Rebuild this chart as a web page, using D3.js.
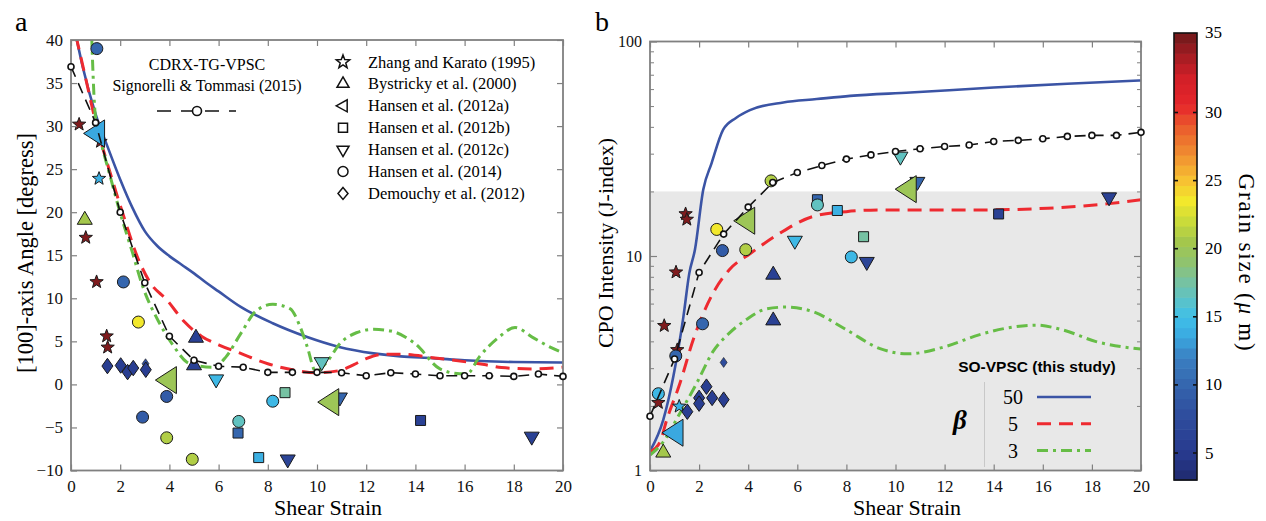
<!DOCTYPE html>
<html><head><meta charset="utf-8">
<script src="https://cdn.jsdelivr.net/npm/d3@7"></script>
<style>body{margin:0;background:#fff}svg{display:block}</style>
</head><body>
<svg id="chart" width="1266" height="521"></svg>
<script>
// ---------------- DATA ----------------
const strainTicks = [0,2,4,6,8,10,12,14,16,18,20];
const angleTicks = [-10,-5,0,5,10,15,20,25,30,35,40];
const jTicks = [1,10,100];
const jMinorTicks = [2,3,4,5,6,7,8,9,20,30,40,50,60,70,80,90];
const grainTicks = [5,10,15,20,25,30,35];
const studyNames = ["Zhang and Karato (1995)","Bystricky et al. (2000)","Hansen et al. (2012a)","Hansen et al. (2012b)","Hansen et al. (2012c)","Hansen et al. (2014)","Demouchy et al. (2012)"];
const betaLabels = ["50","5","3"];

// panel a points: [shear strain, angle, grain size]
const zhangA = [[0.33,30.2,35.3],[0.6,17.05,35.3],[1.04,11.9,35.3],[1.45,5.6,35.3],[1.49,4.3,35.3],[1.14,23.9,14],[1.2,28.2,35.3]];
const bystrickyA = [[0.56,19.1,20.5],[5.08,5.4,6],[5.0,2.2,6]];
const hansen12aA = [[1.04,29.15,13.5],[3.96,0.5,20],[10.56,-2.06,20]];
const hansen12bA = [[6.79,-5.65,10],[7.63,-8.5,14],[8.7,-0.96,17.5],[14.21,-4.19,6]];
const hansen12cA = [[5.9,0.6,14.5],[8.81,-8.7,6.5],[10.19,2.6,16.5],[10.93,-1.5,10],[18.73,-6.05,6]];
const hansen14A = [[1.05,39,10],[2.13,11.9,10],[2.74,7.24,23.5],[3.89,-1.4,9],[2.91,-3.8,9],[3.89,-6.2,21],[4.93,-8.7,21],[6.82,-4.3,16.5],[8.2,-1.95,14.5]];
const demouchyA = [[1.48,2.13,5.5],[2.02,2.2,5.5],[2.3,1.43,5.5],[2.53,1.9,5.5],[3.04,1.7,5.5]];
const demouchySmallA = [[3.03,2.4,7.5]];

// panel b points: [shear strain, J-index, grain size]
const zhangB = [[1.45,15.7,35.3],[1.5,14.8,35.3],[1.06,8.4,35.3],[0.58,4.73,35.3],[1.11,3.65,35.3],[0.34,2.07,35.3],[1.19,1.99,14]];
const bystrickyB = [[0.54,1.21,20.5],[5.02,8.17,6],[5.02,5.0,6]];
const hansen12aB = [[1.02,1.5,13.5],[3.94,14.6,20],[10.52,20.5,20]];
const hansen12bB = [[6.82,18.3,10],[7.63,16.3,14],[8.7,12.3,17.5],[14.2,15.7,6]];
const hansen12cB = [[5.9,11.8,14.5],[8.83,9.4,6.5],[10.2,29.1,16.5],[10.89,22.2,10],[18.7,18.8,6]];
const hansen14B = [[2.72,13.3,23.5],[2.95,10.6,9],[3.9,10.7,21],[4.93,22.4,21],[6.82,17.3,16.5],[8.2,9.9,14.5],[2.14,4.83,10],[1.05,3.42,10],[0.34,2.28,14.5]];
const demouchyB = [[1.52,1.88,5.5],[2.0,2.18,5.5],[2.0,2.05,5.5],[2.3,2.46,5.5],[2.53,2.18,5.5],[3.0,2.14,5.5]];
const demouchySmallB = [[3.0,3.19,7.5]];

// model curves, panel a: [strain, angle]
const beta50A = [[0.2,40.5],[0.5,36.6],[1.0,31.4],[1.5,27.5],[2.0,23.8],[2.5,20.5],[3.0,17.8],[3.5,16.1],[4.0,14.9],[4.5,13.9],[5.0,12.9],[5.5,11.8],[6.0,10.8],[6.9,9.0],[8.2,7.1],[9.6,5.5],[10.9,4.35],[12.3,3.6],[13.4,3.25],[14.7,3.05],[16,2.8],[18,2.6],[20,2.55]];
const beta5A = [[0.2,40.5],[0.6,35.5],[1.0,30.5],[1.6,24.5],[2.1,19.9],[2.7,14.8],[3.2,11.9],[3.9,9.8],[4.6,7.3],[5.3,5.6],[6.0,4.6],[6.9,3.6],[8.0,2.4],[9.0,1.7],[10,1.35],[10.9,1.6],[11.5,2.3],[12.0,3.0],[12.7,3.5],[13.4,3.5],[14.7,3.1],[16.1,2.6],[16.8,2.3],[17.5,1.95],[18.8,1.8],[20,2.0]];
const beta3A = [[0.84,40.5],[0.98,31.5],[1.2,28.4],[1.6,24.1],[2.0,19.9],[2.5,15.3],[2.9,11.5],[3.6,7.1],[4.16,4.5],[4.7,2.6],[5.1,2.2],[5.8,2.0],[6.3,3.2],[6.9,5.9],[7.55,8.6],[8.2,9.3],[8.9,8.8],[9.3,6.8],[9.6,4.4],[9.95,1.5],[10.4,2.6],[10.95,4.8],[11.6,6.0],[12.3,6.4],[13.0,6.2],[14.0,4.7],[15.0,1.8],[15.8,1.25],[16.1,1.25],[16.6,3.2],[17.4,5.5],[18.05,6.6],[18.8,5.4],[19.5,4.3],[20,3.65]];
const cdrxA = [[0,36.9],[1,30.4],[2,20.0],[3,11.8],[4,5.6],[5,2.8],[6,2.1],[7,2.0],[8,1.4],[9,1.4],[10,1.4],[11,1.36],[12,1.0],[13,1.36],[14,1.2],[15,1.0],[16,1.0],[17,1.0],[18,0.93],[19,1.2],[20,0.93]];

// model curves, panel b: [strain, J]
const beta50B = [[0,1.23],[0.54,1.72],[0.95,2.74],[1.36,5.2],[1.6,8.3],[1.83,10.7],[2.17,20.4],[2.51,27.1],[2.98,38.8],[3.5,44],[4.07,47.9],[5.43,52],[6.79,53.9],[8.15,55.8],[10.6,57.8],[14,61],[17,63.5],[20,65.8]];
const beta5B = [[0,1.22],[0.41,1.36],[0.68,1.72],[1.22,2.55],[1.76,4.07],[2.57,6.72],[3.23,8.63],[4.1,10.3],[5.3,12.8],[6.65,15.3],[8.0,16.1],[9.4,16.4],[11,16.4],[13.4,16.4],[16.2,16.7],[18.6,17.5],[20,18.3]];
const beta3B = [[0,1.18],[0.54,1.36],[1.22,1.85],[1.9,2.55],[2.57,3.59],[3.23,4.37],[3.91,5.04],[4.72,5.66],[5.54,5.78],[6.62,5.51],[8.0,4.53],[9.37,3.7],[10.5,3.5],[12.06,3.79],[13.4,4.29],[14.77,4.66],[15.72,4.76],[16.8,4.53],[18.17,3.99],[20,3.68]];
const cdrxB = [[0,1.79],[1,3.31],[2,8.38],[3,12.65],[4,16.9],[5,22.0],[6,24.5],[7,26.4],[8,28.3],[9,29.6],[10,30.7],[11,31.6],[12,32.4],[13,32.9],[14,34.2],[15,34.6],[16,35.2],[17,36.1],[18,36.5],[19,36.5],[20,37.7]];

// shaded band in panel b (J range)
const shadeJ = [1,20];

// ---------------- STYLE ----------------
const SERIF = "'Liberation Serif','Times New Roman',serif";
const SANS = "'Liberation Sans',Arial,sans-serif";
const FRAME = "#808080";
const cmapStops = [[3,'#1f2a6e'],[5,'#283a8e'],[8,'#2f4f9f'],[10,'#3566ae'],[12,'#3a80c2'],[13.5,'#3aa8e0'],[15,'#40c0e8'],[16.3,'#5dc2c6'],[17.6,'#78c2a0'],[19,'#90c36e'],[20.5,'#a4c74c'],[22,'#cadb3a'],[23.5,'#f2e82c'],[25,'#f7c232'],[27,'#f08c30'],[29,'#ea5a2c'],[30.5,'#e6262b'],[32.5,'#d22028'],[34.3,'#a01c22'],[35.8,'#6e1a1a']];
const cmap = d3.scaleLinear().domain(cmapStops.map(d=>d[0])).range(cmapStops.map(d=>d[1])).clamp(true);
const colorOf = g => cmap(g);

const svg = d3.select("#chart");

// shape paths (centered)
function starPath(r){const p=[];for(let i=0;i<10;i++){const a=-Math.PI/2+i*Math.PI/5;const rr=i%2?r*0.42:r;p.push([rr*Math.cos(a),rr*Math.sin(a)]);}return "M"+p.map(q=>q.join(",")).join("L")+"Z";}
function triPath(s,dir){const h=s*0.866;let pts;
  if(dir==="up") pts=[[0,-2*h/3],[s/2,h/3],[-s/2,h/3]];
  else pts=[[0,2*h/3],[s/2,-h/3],[-s/2,-h/3]];
  return "M"+pts.map(q=>q.join(",")).join("L")+"Z";}
function leftTriPath(w,h){return `M${-w*0.62},0L${w*0.38},${-h/2}L${w*0.38},${h/2}Z`;}
function squarePath(s){return `M${-s/2},${-s/2}h${s}v${s}h${-s}Z`;}
function circlePath(r){return `M${r},0A${r},${r} 0 1,1 ${-r},0A${r},${r} 0 1,1 ${r},0Z`;}
function diamondPath(w,h){return `M0,${-h/2}L${w/2},0L0,${h/2}L${-w/2},0Z`;}

const shapes = {
  star: starPath(7),
  up: triPath(15,"up"),
  down: triPath(15,"down"),
  bigleft: leftTriPath(21,27),
  square: squarePath(10),
  circle: circlePath(6),
  diamond: diamondPath(11,15.5),
  smalldiamond: diamondPath(7,10)
};

function makeClip(x,y,id){
  const [x0,x1]=x.range(); const [y0,y1]=y.range();
  svg.append("clipPath").attr("id",id).append("rect").attr("x",x0).attr("y",y1).attr("width",x1-x0).attr("height",y0-y1);
  return id;
}

function axesFrame(x,y,opts){
  const [x0,x1]=x.range(); const [y0,y1]=y.range();
  const g = svg.append("g");
  const b = g.append("g").attr("transform",`translate(0,${y0})`).call(d3.axisBottom(x).tickValues(strainTicks).tickSize(-6).tickPadding(9).tickFormat(d3.format("d")));
  const t = g.append("g").attr("transform",`translate(0,${y1})`).call(d3.axisTop(x).tickValues(strainTicks).tickSize(-6).tickFormat(""));
  let l,r;
  if(opts.log){
    l = g.append("g").attr("transform",`translate(${x0},0)`).call(d3.axisLeft(y).tickValues(jTicks).tickSize(-7).tickPadding(8).tickFormat(d3.format("d")));
    r = g.append("g").attr("transform",`translate(${x1},0)`).call(d3.axisRight(y).tickValues(jTicks).tickSize(-7).tickFormat(""));
    const lm = g.append("g").attr("transform",`translate(${x0},0)`).call(d3.axisLeft(y).tickValues(jMinorTicks).tickSize(-4).tickFormat(""));
    const rm = g.append("g").attr("transform",`translate(${x1},0)`).call(d3.axisRight(y).tickValues(jMinorTicks).tickSize(-4).tickFormat(""));
    [lm,rm].forEach(a=>{a.select(".domain").remove();a.selectAll("line").attr("stroke",FRAME);});
  } else {
    l = g.append("g").attr("transform",`translate(${x0},0)`).call(d3.axisLeft(y).tickValues(angleTicks).tickSize(-6).tickPadding(8).tickFormat(d3.format("d")));
    r = g.append("g").attr("transform",`translate(${x1},0)`).call(d3.axisRight(y).tickValues(angleTicks).tickSize(-6).tickFormat(""));
  }
  [b,t,l,r].forEach(a=>{
    a.select(".domain").remove();
    a.selectAll("line").attr("stroke",FRAME).attr("stroke-width",1.2);
    a.selectAll("text").attr("font-family",SERIF).attr("font-size",opts.log?16:17).attr("fill","#111");
  });
  b.selectAll("text").attr("font-size",17);
  g.append("rect").attr("x",x0).attr("y",y1).attr("width",x1-x0).attr("height",y0-y1)
    .attr("fill","none").attr("stroke",FRAME).attr("stroke-width",1.8);
}

function drawCurves(x,y,clipId,c50,c5,c3){
  const line = d3.line().x(d=>x(d[0])).y(d=>y(d[1])).curve(d3.curveMonotoneX);
  const g = svg.append("g").attr("clip-path",`url(#${clipId})`);
  g.append("path").attr("d",line(c50)).attr("fill","none").attr("stroke","#3b54a5").attr("stroke-width",2.6);
  g.append("path").attr("d",line(c5)).attr("fill","none").attr("stroke","#ee2a30").attr("stroke-width",3).attr("stroke-dasharray","14,8");
  g.append("path").attr("d",line(c3)).attr("fill","none").attr("stroke","#66bd46").attr("stroke-width",3).attr("stroke-dasharray","11,5,3,5");
}

function drawCdrx(x,y,data){
  const line = d3.line().x(d=>x(d[0])).y(d=>y(d[1]));
  const g = svg.append("g");
  g.append("path").attr("d",line(data)).attr("fill","none").attr("stroke","#111").attr("stroke-width",1.6).attr("stroke-dasharray","11,7");
  g.selectAll("circle").data(data).join("circle").attr("cx",d=>x(d[0])).attr("cy",d=>y(d[1])).attr("r",3)
    .attr("fill","#fff").attr("stroke","#111").attr("stroke-width",1.6);
}

function drawPoints(x,y,data,shape){
  svg.append("g").selectAll("path").data(data).join("path")
    .attr("d",shapes[shape])
    .attr("transform",d=>`translate(${x(d[0])},${y(d[1])})`)
    .attr("fill",d=>colorOf(d[2])).attr("stroke","#1a1a1a").attr("stroke-width",shape==="smalldiamond"?0.6:1);
}

// ---------------- PANEL A ----------------
const xA = d3.scaleLinear().domain([0,20]).range([71,563]);
const yA = d3.scaleLinear().domain([-10,40]).range([470.5,40]);
const clipA = makeClip(xA,yA,"clipa");
drawCurves(xA,yA,clipA,beta50A,beta5A,beta3A);
drawPoints(xA,yA,zhangA,"star");
drawPoints(xA,yA,bystrickyA,"up");
drawPoints(xA,yA,hansen12bA,"square");
drawPoints(xA,yA,hansen12cA,"down");
drawPoints(xA,yA,hansen14A,"circle");
drawPoints(xA,yA,demouchySmallA,"smalldiamond");
drawPoints(xA,yA,demouchyA,"diamond");
drawPoints(xA,yA,hansen12aA,"bigleft");
axesFrame(xA,yA,{log:false});
drawCdrx(xA,yA,cdrxA);

// ---------------- PANEL B ----------------
const xB = d3.scaleLinear().domain([0,20]).range([650,1141]);
const yB = d3.scaleLog().domain([1,100]).range([470.5,41.5]);
const clipB = makeClip(xB,yB,"clipb");
svg.append("rect").attr("x",xB(0)).attr("y",yB(shadeJ[1])).attr("width",xB(20)-xB(0)).attr("height",yB(shadeJ[0])-yB(shadeJ[1])).attr("fill","#e8e8e8");
drawCurves(xB,yB,clipB,beta50B,beta5B,beta3B);
drawPoints(xB,yB,zhangB,"star");
drawPoints(xB,yB,bystrickyB,"up");
drawPoints(xB,yB,hansen12bB,"square");
drawPoints(xB,yB,hansen12cB,"down");
drawPoints(xB,yB,hansen14B,"circle");
drawPoints(xB,yB,demouchySmallB,"smalldiamond");
drawPoints(xB,yB,demouchyB,"diamond");
drawPoints(xB,yB,hansen12aB,"bigleft");
axesFrame(xB,yB,{log:true});
drawCdrx(xB,yB,cdrxB);

// ---------------- LABELS ----------------
svg.append("text").attr("x",15).attr("y",31).attr("font-family",SERIF).attr("font-size",28).text("a");
svg.append("text").attr("x",595).attr("y",31).attr("font-family",SERIF).attr("font-size",28).text("b");
svg.append("text").attr("x",328).attr("y",515).attr("text-anchor","middle").attr("font-family",SERIF).attr("font-size",22).text("Shear Strain");
svg.append("text").attr("x",907).attr("y",515).attr("text-anchor","middle").attr("font-family",SERIF).attr("font-size",22).text("Shear Strain");
svg.append("text").attr("transform","translate(33,253) rotate(-90)").attr("text-anchor","middle").attr("font-family",SERIF).attr("font-size",22.5).text("[100]-axis Angle [degress]");
svg.append("text").attr("transform","translate(613,243) rotate(-90)").attr("text-anchor","middle").attr("font-family",SERIF).attr("font-size",22).text("CPO Intensity (J-index)");

// panel a legend: CDRX
svg.append("text").attr("x",207).attr("y",70).attr("text-anchor","middle").attr("font-family",SERIF).attr("font-size",16).text("CDRX-TG-VPSC");
svg.append("text").attr("x",207).attr("y",91).attr("text-anchor","middle").attr("font-family",SERIF).attr("font-size",16).text("Signorelli & Tommasi (2015)");
svg.append("line").attr("x1",157).attr("x2",236).attr("y1",111).attr("y2",111).attr("stroke","#111").attr("stroke-width",1.6).attr("stroke-dasharray","14,10");
svg.append("circle").attr("cx",197).attr("cy",111).attr("r",4.5).attr("fill","#fff").attr("stroke","#111").attr("stroke-width",1.6);

// panel a legend: studies
const legendShapes = [starPath(7),triPath(12,"up"),leftTriPath(11,12),squarePath(9),triPath(12,"down"),circlePath(5),diamondPath(10,12)];
const lg = svg.append("g");
studyNames.forEach((name,i)=>{
  const yy = 62 + i*21.9;
  lg.append("path").attr("d",legendShapes[i]).attr("transform",`translate(343,${yy})`).attr("fill","#fff").attr("stroke","#111").attr("stroke-width",1.5);
  lg.append("text").attr("x",368).attr("y",yy+5.5).attr("font-family",SERIF).attr("font-size",16.5).text(name);
});

// panel b legend
svg.append("text").attr("x",1037).attr("y",372).attr("text-anchor","middle").attr("font-family",SANS).attr("font-weight","bold").attr("font-size",15.5).text("SO-VPSC (this study)");
svg.append("line").attr("x1",984.5).attr("x2",984.5).attr("y1",382).attr("y2",467).attr("stroke","#c8c8c8").attr("stroke-width",1);
svg.append("text").attr("x",960).attr("y",429).attr("text-anchor","middle").attr("font-family",SERIF).attr("font-style","italic").attr("font-weight","bold").attr("font-size",27).text("β");
const legStyles = [["#3b54a5",null,2.4],["#ee2a30","14,8",3],["#66bd46","11,5,3,5",3]];
betaLabels.forEach((lab,i)=>{
  const yy = 397 + i*26.8;
  svg.append("text").attr("x",1013).attr("y",yy+7).attr("text-anchor","middle").attr("font-family",SERIF).attr("font-size",20).text(lab);
  const ln = svg.append("line").attr("x1",1037).attr("x2",1091).attr("y1",yy).attr("y2",yy).attr("stroke",legStyles[i][0]).attr("stroke-width",legStyles[i][2]);
  if(legStyles[i][1]) ln.attr("stroke-dasharray",legStyles[i][1]);
});

// ---------------- COLORBAR ----------------
const cbX = 1174, cbW = 23;
const cbY = d3.scaleLinear().domain([5,30]).range([452.5,112]);
const cbTop = 33, cbBot = 480;
const nBands = 44;
const vTop = cbY.invert(cbTop), vBot = cbY.invert(cbBot);
const step = (vTop-vBot)/nBands;
const bands = d3.range(nBands).map(i=>vBot + step*i);
svg.append("g").selectAll("rect").data(bands).join("rect")
  .attr("x",cbX).attr("width",cbW)
  .attr("y",d=>cbY(d+step)).attr("height",d=>cbY(d)-cbY(d+step)+0.6)
  .attr("fill",d=>cmap(d+step/2));
svg.append("rect").attr("x",cbX).attr("y",cbTop).attr("width",cbW).attr("height",cbBot-cbTop).attr("fill","none").attr("stroke","#111").attr("stroke-width",1.6);
const cbAxL = svg.append("g").attr("transform",`translate(${cbX},0)`).call(d3.axisRight(cbY).tickValues(grainTicks.slice(0,6)).tickSize(4).tickFormat(""));
const cbAxR = svg.append("g").attr("transform",`translate(${cbX+cbW},0)`).call(d3.axisLeft(cbY).tickValues(grainTicks.slice(0,6)).tickSize(4).tickFormat(""));
[cbAxL,cbAxR].forEach(a=>{a.select(".domain").remove();a.selectAll("line").attr("stroke","#111").attr("stroke-width",1.6);});
svg.append("g").selectAll("text").data(grainTicks).join("text")
  .attr("x",1205).attr("y",d=>d===35?cbTop+5:cbY(d)+6)
  .attr("font-family",SERIF).attr("font-size",17).text(d=>d);
const cl = svg.append("text").attr("transform","translate(1239,263) rotate(90)").attr("text-anchor","middle").attr("font-family",SERIF).attr("font-size",23).attr("letter-spacing",1.8);
cl.append("tspan").text("Grain size (");
cl.append("tspan").attr("font-style","italic").text("μ");
cl.append("tspan").text(" m)");
</script>
</body></html>
